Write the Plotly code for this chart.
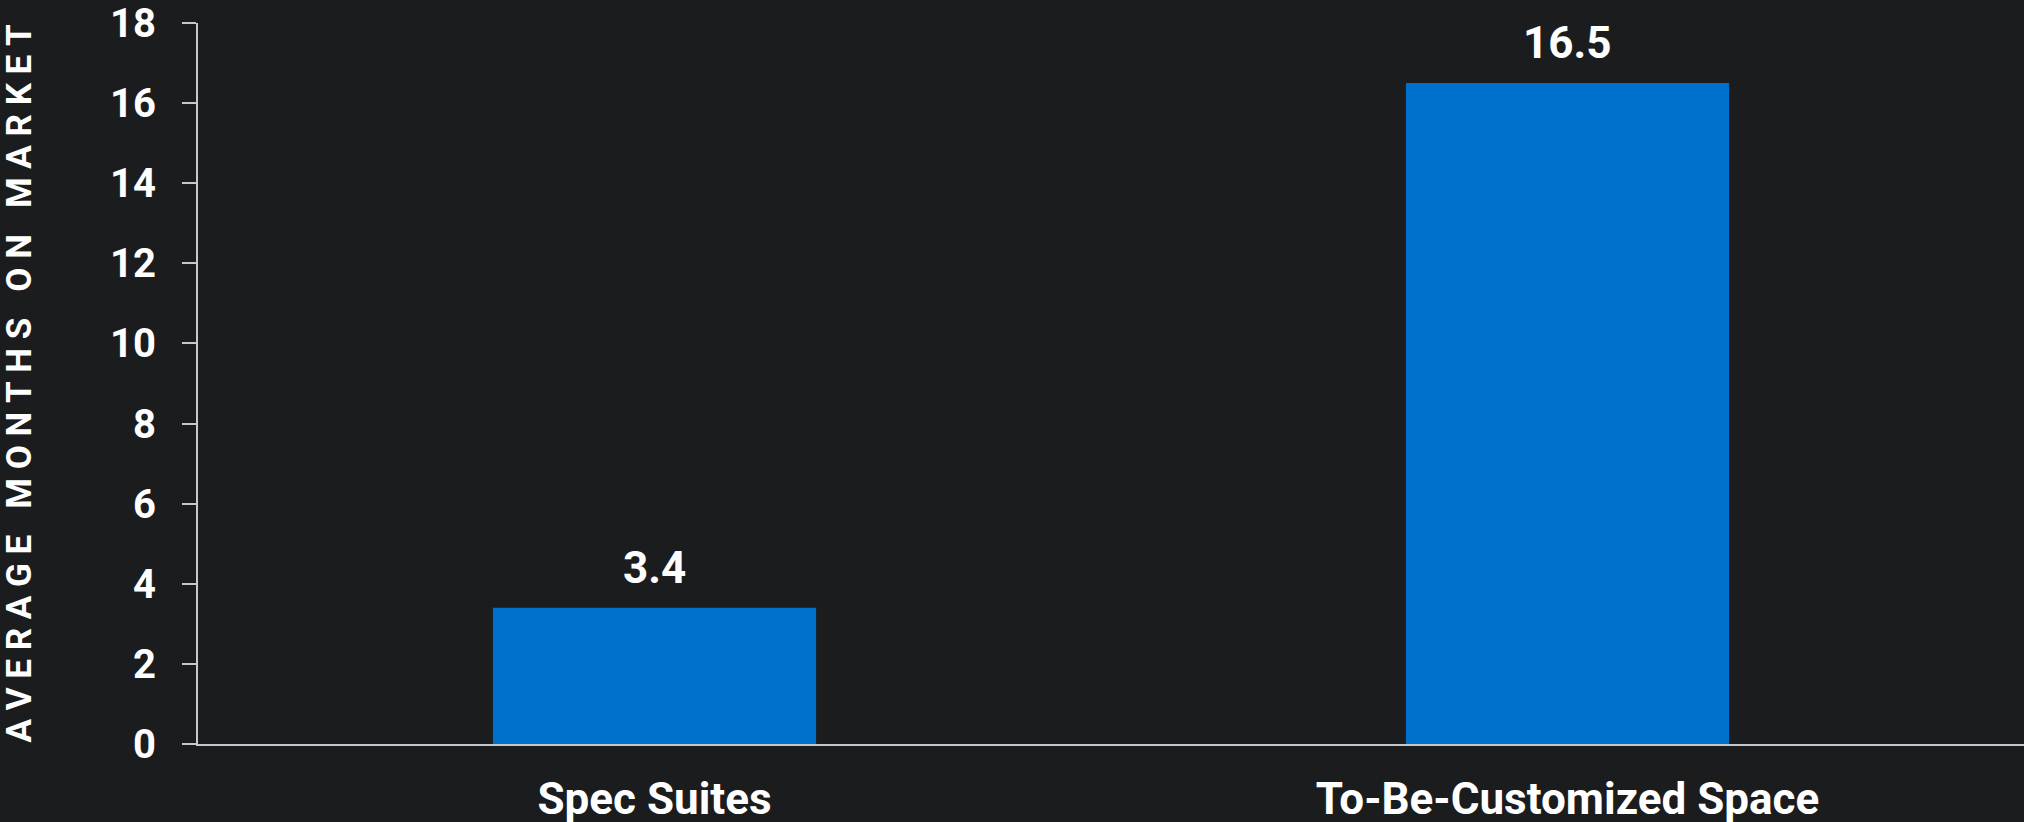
import plotly.graph_objects as go

categories = ["Spec Suites", "To-Be-Customized Space"]
values = [3.4, 16.5]
value_labels = ["3.4", "16.5"]
y_ticks = [0, 2, 4, 6, 8, 10, 12, 14, 16, 18]
y_title = "AVERAGE MONTHS ON MARKET"

BG = "#1b1c1e"
BAR = "#0070cd"
AXIS = "#c8c8c8"
FONT = "Roboto"

fig = go.Figure()
fig.add_trace(go.Bar(
    x=categories, y=values, width=0.354,
    marker=dict(color=BAR, line=dict(width=0)),
    hoverinfo="skip",
))

for c, v, t in zip(categories, values, value_labels):
    fig.add_annotation(
        x=c, y=v, text=t, showarrow=False, xref="x", yref="y",
        yanchor="bottom", yshift=12,
        font=dict(family=FONT, size=44, color="white", weight=700),
    )

spaced = "\u00a0".join(list(y_title)).replace("\u00a0\u00a0\u00a0", "\u00a0\u00a0\u00a0\u00a0")
fig.add_annotation(
    x=-179 / 1826, y=0.5, xref="paper", yref="paper", text=spaced,
    textangle=-90, showarrow=False, xanchor="center", yanchor="middle",
    font=dict(family=FONT, size=35, color="white", weight=700),
)

fig.update_layout(
    width=2024, height=822,
    margin=dict(l=198, r=0, t=23, b=78),
    paper_bgcolor=BG, plot_bgcolor=BG,
    showlegend=False,
    bargap=0.3,
)
fig.update_xaxes(
    automargin=False,
    showgrid=False, zeroline=False, showline=True, linecolor=AXIS, linewidth=2,
    ticks="", tickfont=dict(family=FONT, size=44, color="white", weight=700),
    ticklabelstandoff=15,
)
fig.update_yaxes(
    automargin=False,
    range=[0, 18], tickvals=y_ticks, showgrid=False, zeroline=False,
    showline=True, linecolor=AXIS, linewidth=2,
    ticks="outside", ticklen=14, tickwidth=2, tickcolor=AXIS,
    tickfont=dict(family=FONT, size=40, color="white", weight=700),
    ticklabelstandoff=18,
)

fig.write_html(
    "out.html",
    config={"displayModeBar": False},
    post_script=(
        "document.documentElement.style.margin='0';"
        "document.body.style.margin='0';"
        "document.body.style.overflow='hidden';"
        "document.body.style.background='" + BG + "';"
    ),
)
